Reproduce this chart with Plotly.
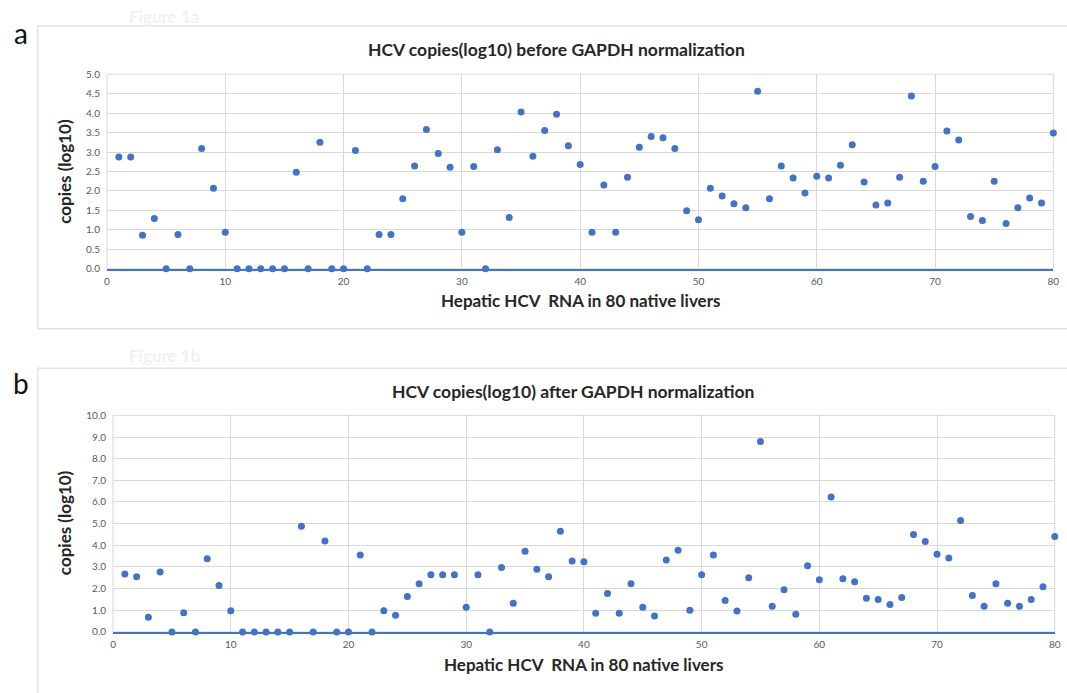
import plotly.graph_objects as go

samples = list(range(1, 81))

before_gapdh = [
    2.87, 2.87, 0.86, 1.29, 0.00, 0.88, 0.00, 3.09, 2.07, 0.94,
    0.00, 0.00, 0.00, 0.00, 0.00, 2.48, 0.00, 3.25, 0.00, 0.00,
    3.04, 0.00, 0.88, 0.88, 1.80, 2.64, 3.58, 2.96, 2.61, 0.94,
    2.63, 0.00, 3.06, 1.32, 4.03, 2.89, 3.55, 3.97, 3.16, 2.68,
    0.94, 2.15, 0.94, 2.35, 3.12, 3.40, 3.37, 3.09, 1.49, 1.26,
    2.07, 1.87, 1.67, 1.57, 4.56, 1.80, 2.64, 2.33, 1.95, 2.38,
    2.33, 2.66, 3.19, 2.23, 1.64, 1.69, 2.35, 4.44, 2.25, 2.63,
    3.54, 3.31, 1.34, 1.24, 2.25, 1.16, 1.57, 1.82, 1.69, 3.49,
]

after_gapdh = [
    2.68, 2.55, 0.68, 2.77, 0.00, 0.89, 0.00, 3.38, 2.14, 0.98,
    0.00, 0.00, 0.00, 0.00, 0.00, 4.88, 0.00, 4.20, 0.00, 0.00,
    3.55, 0.00, 0.98, 0.77, 1.64, 2.23, 2.64, 2.64, 2.64, 1.14,
    2.64, 0.00, 2.97, 1.32, 3.73, 2.89, 2.55, 4.65, 3.27, 3.24,
    0.86, 1.77, 0.86, 2.23, 1.14, 0.73, 3.32, 3.77, 1.00, 2.64,
    3.55, 1.45, 0.97, 2.50, 8.79, 1.18, 1.95, 0.82, 3.05, 2.41,
    6.23, 2.45, 2.32, 1.55, 1.50, 1.27, 1.59, 4.50, 4.18, 3.59,
    3.41, 5.14, 1.68, 1.18, 2.23, 1.32, 1.18, 1.50, 2.09, 4.41,
]

x_ticks = [0, 10, 20, 30, 40, 50, 60, 70, 80]
y_ticks_a = [0.0, 0.5, 1.0, 1.5, 2.0, 2.5, 3.0, 3.5, 4.0, 4.5, 5.0]
y_ticks_b = [0.0, 1.0, 2.0, 3.0, 4.0, 5.0, 6.0, 7.0, 8.0, 9.0, 10.0]

title_a = "HCV copies(log10) before GAPDH normalization"
title_b = "HCV copies(log10) after GAPDH normalization"
x_title = "Hepatic HCV  RNA in 80 native livers"
y_title = "copies (log10)"

W, H = 1067, 693
MARKER = "#4472C4"
GRID = "#d9d9d9"
TICKC = "#595959"
FONT = "Lato, 'Open Sans', sans-serif"


def px(x):
    return x / W


def py(y):
    return 1 - y / H


fig = go.Figure()
fig.add_trace(go.Scatter(x=samples, y=before_gapdh, mode="markers", xaxis="x", yaxis="y",
                         marker=dict(color=MARKER, size=7), cliponaxis=False, showlegend=False))
fig.add_trace(go.Scatter(x=samples, y=after_gapdh, mode="markers", xaxis="x2", yaxis="y2",
                         marker=dict(color=MARKER, size=7), cliponaxis=False, showlegend=False))

axis_common = dict(showgrid=True, gridcolor=GRID, gridwidth=1, zeroline=False,
                   ticks="", tickfont=dict(family=FONT, size=10, color=TICKC))

fig.update_layout(
    width=W, height=H, autosize=False,
    margin=dict(l=0, r=0, t=0, b=0),
    paper_bgcolor="white", plot_bgcolor="white",
    xaxis=dict(domain=[px(104.9), px(1059.3)], anchor="y", range=[0, 80], tickvals=x_ticks,
               showline=True, linecolor=MARKER, linewidth=1.5, ticklabelstandoff=2, **axis_common),
    yaxis=dict(domain=[py(267), py(69.3)], anchor="x", range=[0, 5], tickvals=y_ticks_a,
               tickformat=".1f", showline=False, ticklabelstandoff=6, **axis_common),
    xaxis2=dict(domain=[px(111), px(1060.7)], anchor="y2", range=[0, 80], tickvals=x_ticks,
                showline=True, linecolor=MARKER, linewidth=1.5, ticklabelstandoff=2, **axis_common),
    yaxis2=dict(domain=[py(636), py(416)], anchor="x2", range=[0, 10], tickvals=y_ticks_b,
                tickformat=".1f", showline=False, ticklabelstandoff=6, **axis_common),
)

shapes = []
# outer panel frames
shapes.append(dict(type="rect", xref="paper", yref="paper", x0=px(35), x1=px(1075), y0=py(328), y1=py(20),
                   line=dict(color="#e3e3e3", width=1.5), layer="below"))
shapes.append(dict(type="rect", xref="paper", yref="paper", x0=px(35), x1=px(1075), y0=py(700), y1=py(368),
                   line=dict(color="#e3e3e3", width=1.5), layer="below"))
# plot-area borders
for xr, yr in (("x", "y"), ("x2", "y2")):
    shapes.append(dict(type="rect", xref=f"{xr} domain", yref=f"{yr} domain", x0=0, x1=1, y0=0, y1=1,
                       line=dict(color=GRID, width=1), layer="below"))
fig.update_layout(shapes=shapes)

ann = []
bold = dict(family=FONT, color="#262626")
ann.append(dict(text=f"<b>{title_a}</b>", x=px(558), y=py(44), xref="paper", yref="paper",
                showarrow=False, font=dict(size=17.5, **bold), xanchor="center", yanchor="middle"))
ann.append(dict(text=f"<b>{title_b}</b>", x=px(575), y=py(392), xref="paper", yref="paper",
                showarrow=False, font=dict(size=17.5, **bold), xanchor="center", yanchor="middle"))
ann.append(dict(text=f"<b>{x_title}</b>", x=px(582), y=py(299), xref="paper", yref="paper",
                showarrow=False, font=dict(size=17, **bold), xanchor="center", yanchor="middle"))
ann.append(dict(text=f"<b>{x_title}</b>", x=px(585), y=py(669), xref="paper", yref="paper",
                showarrow=False, font=dict(size=17, **bold), xanchor="center", yanchor="middle"))
ann.append(dict(text=f"<b>{y_title}</b>", x=px(62), y=py(168), xref="paper", yref="paper",
                showarrow=False, font=dict(size=17, **bold), textangle=-90, xanchor="center", yanchor="middle"))
ann.append(dict(text=f"<b>{y_title}</b>", x=px(62), y=py(525), xref="paper", yref="paper",
                showarrow=False, font=dict(size=17, **bold), textangle=-90, xanchor="center", yanchor="middle"))
ann.append(dict(text="a", x=px(18), y=py(27), xref="paper", yref="paper", showarrow=False,
                font=dict(family=FONT, size=28, color="#111111"), xanchor="center", yanchor="middle"))
ann.append(dict(text="b", x=px(18), y=py(383), xref="paper", yref="paper", showarrow=False,
                font=dict(family=FONT, size=28, color="#111111"), xanchor="center", yanchor="middle"))
ann.append(dict(text="<b>Figure 1a</b>", x=px(125), y=py(11), xref="paper", yref="paper", showarrow=False,
                font=dict(family=FONT, size=17, color="#f1f1f1"), xanchor="left", yanchor="middle"))
ann.append(dict(text="<b>Figure 1b</b>", x=px(125), y=py(355), xref="paper", yref="paper", showarrow=False,
                font=dict(family=FONT, size=17, color="#f1f1f1"), xanchor="left", yanchor="middle"))
fig.update_layout(annotations=ann)

fig.write_html(
    "out.html",
    config={"displayModeBar": False},
    post_script="document.body.style.margin='0';document.body.style.padding='0';"
                "document.documentElement.style.overflow='hidden';",
)
